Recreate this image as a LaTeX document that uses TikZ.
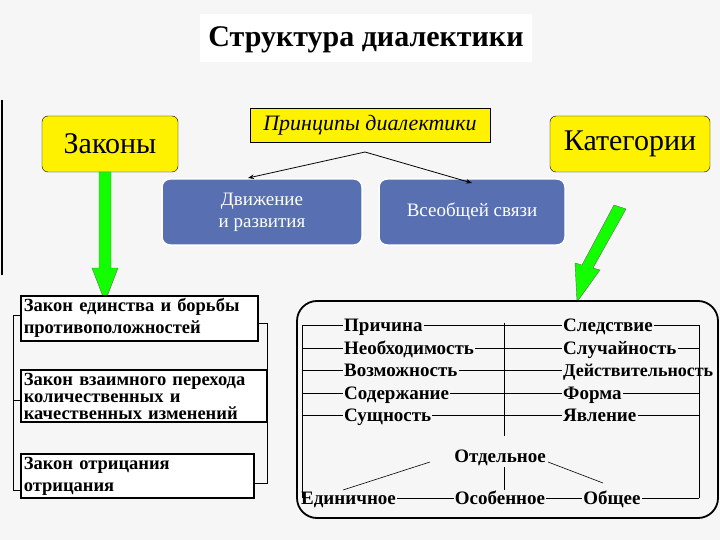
\documentclass[tikz,border=0pt]{standalone}
\usepackage{fontspec}
\setmainfont{Liberation Serif}
\usetikzlibrary{arrows.meta}
\definecolor{bl}{RGB}{88,112,178}
\begin{document}
\begin{tikzpicture}[x=1pt,y=-1pt,
  ybox/.style={draw=black,fill=yellow,rounded corners=6pt,font=\fontsize{30}{32}\selectfont},
  bbox/.style={draw=white,line width=1.5pt,fill=bl,rounded corners=8pt,text=white,font=\fontsize{19}{22}\selectfont,align=center},
  lawbox/.style={draw=black,line width=1.5pt,fill=white,align=left,anchor=north west,font=\bfseries\fontsize{18.5}{20}\selectfont,inner sep=3pt},
  cat/.style={font=\bfseries\fontsize{19}{20}\selectfont,inner sep=1pt},
  thin/.style={draw=black,line width=0.6pt},
  garrow/.style={draw=black!60,fill=green!90!lime,line width=0.4pt}]
\fill[gray!7] (0,0) rectangle (720,540);
\useasboundingbox (0,0) rectangle (720,540);
\fill[white] (200,14) rectangle (532,62);
\node[font=\bfseries\fontsize{30}{32}\selectfont] (title) at (366,40) {Структура диалектики};
\draw[line width=1.5pt] (2,100) -- (2,275);
% top boxes
\node[ybox,minimum width=136pt,minimum height=56pt] (zak) at (110,144) {Законы};
\node[draw=black,fill=yellow,minimum width=240pt,minimum height=34pt,font=\itshape\fontsize{22}{24}\selectfont] (pr) at (370,125) {Принципы диалектики};
\node[ybox,minimum width=160pt,minimum height=56pt] (kat) at (630,144) {Категории};
\node[bbox,minimum width=200pt,minimum height=66pt] (dv) at (262,212) {Движение\\и развития};
\node[bbox,minimum width=186pt,minimum height=66pt] (vs) at (472,212) {Всеобщей связи};
\coordinate (split) at (365,152);
\draw[-{Stealth[length=6pt]},line width=0.8pt] (split) -- (248,178);
\draw[-{Stealth[length=6pt]},line width=0.8pt] (split) -- (472,183);
% green arrows
\draw[garrow] (99,172) -- (111,172) -- (111,268) -- (118,268) -- (105,302) -- (92,268) -- (99,268) -- cycle;
\draw[garrow] (614,205) -- (626,209) -- (593,268) -- (600,270) -- (577,302) -- (575,263) -- (582,265) -- cycle;
% laws
\draw[thin] (20,315) -- (13,315) -- (13,490) -- (20,490);
\draw[thin] (13,400) -- (20,400);
\draw[thin] (255,323) -- (267,323) -- (267,483) -- (253,483);
\draw[thin] (256,403) -- (267,403);
\node[lawbox,text width=231pt] (l1) at (20,295) {Закон единства и борьбы\\[2pt] противоположностей};
\node[lawbox,text width=240pt,font=\bfseries\fontsize{18.5}{17}\selectfont] (l2) at (20,369) {Закон взаимного перехода\\количественных и\\качественных изменений};
\node[lawbox,text width=227pt] (l3) at (20,453) {Закон отрицания\\[2pt] отрицания};
% categories frame
\draw[line width=1.8pt,rounded corners=20pt] (297,301) rectangle (718,518);
\foreach \y in {325,348,370,393,415} \draw[thin] (302,\y) -- (343,\y);
\draw[thin] (302,325) -- (302,498);
\draw[thin] (504,323) -- (504,436);
\draw[thin] (504,467) -- (504,490);
\draw[thin] (699,325) -- (699,498);
\node[cat,anchor=base west] (a1) at (343,331) {Причина};
\node[cat,anchor=base west] (a2) at (343,354) {Необходимость};
\node[cat,anchor=base west] (a3) at (343,376) {Возможность};
\node[cat,anchor=base west] (a4) at (343,399) {Содержание};
\node[cat,anchor=base west] (a5) at (343,421) {Сущность};
\node[cat,anchor=base west] (b1) at (562,331) {Следствие};
\node[cat,anchor=base west] (b2) at (562,354) {Случайность};
\node[cat,anchor=base west,font=\bfseries\fontsize{18}{20}\selectfont] (b3) at (562,376) {Действительность};
\node[cat,anchor=base west] (b4) at (562,399) {Форма};
\node[cat,anchor=base west] (b5) at (562,421) {Явление};
\foreach \i/\y in {1/325,2/348,3/370,4/393,5/415} \draw[thin] (a\i.east |- 0,\y) -- (b\i.west |- 0,\y);
\draw[thin] (b1.east |- 0,325) -- (699,325);
\draw[thin] (b2.east |- 0,348) -- (699,348);
\draw[thin] (b4.east |- 0,393) -- (699,393);
\draw[thin] (b5.east |- 0,415) -- (699,415);
\node[cat,anchor=base] (ot) at (500,462) {Отдельное};
\node[cat,anchor=base west] (c1) at (300,504) {Единичное};
\node[cat,anchor=base] (c2) at (500,504) {Особенное};
\node[cat,anchor=base] (c3) at (612,504) {Общее};
\draw[thin] (c1.east |- 0,498) -- (c2.west |- 0,498);
\draw[thin] (c2.east |- 0,498) -- (c3.west |- 0,498);
\draw[thin] (c3.east |- 0,498) -- (699,498);
\draw[thin] (343,490) -- (430,462);
\draw[thin] (548,462) -- (603,483);
\end{tikzpicture}
\end{document}
